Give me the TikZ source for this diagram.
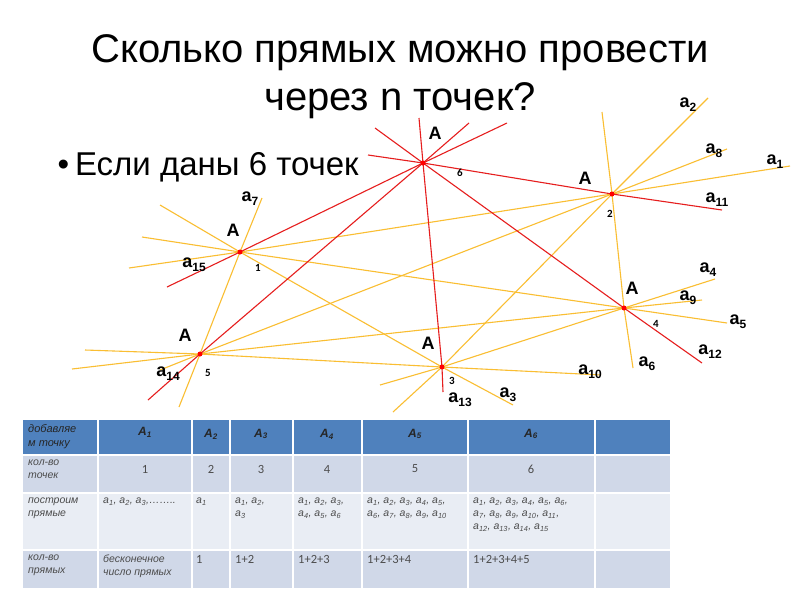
\documentclass[tikz,border=0pt]{standalone}
\usepackage{fontspec}
\setmainfont{Carlito}
\newfontfamily\arialf{Liberation Sans}
\definecolor{yel}{RGB}{250,190,50}
\definecolor{redl}{RGB}{230,30,30}
\definecolor{hdr}{RGB}{79,129,189}
\definecolor{rowa}{RGB}{208,216,232}
\definecolor{rowb}{RGB}{233,237,244}
\newcommand{\lsub}[1]{\raisebox{-4pt}{\fontsize{12}{12}\selectfont #1}}
\begin{document}
\begin{tikzpicture}[x=1pt,y=-1pt,
 yl/.style={draw=yel,line width=1.1pt},
 rl/.style={draw=redl,line width=1.1pt},
 pt/.style={circle,fill=red,inner sep=0pt,minimum size=5pt},
 bigA/.style={font=\arialf\bfseries\fontsize{18}{18}\selectfont},
 sub/.style={font=\bfseries\fontsize{11}{11}\selectfont},
 lab/.style={font=\arialf\bfseries\fontsize{18}{18}\selectfont,inner sep=0pt},
 cell/.style={font=\arialf\itshape\fontsize{10.5}{13}\selectfont,text=black!70,align=left,anchor=north west,inner sep=0pt}]
\useasboundingbox (0,0) rectangle (800,600);
\fill[white] (0,0) rectangle (800,600);
% points
\coordinate (A6) at (423,163); \coordinate (A2) at (612,194);
\coordinate (A1) at (240,252); \coordinate (A4) at (624,308);
\coordinate (A5) at (200,354); \coordinate (A3) at (442,367);
% yellow lines
\draw[yl] (262,198) -- (A1) -- (A5) -- (179,407);
\draw[yl] (602,112) -- (A2) -- (A4) -- (633,368);
\draw[yl] (708,98) -- (A2) -- (A3) -- (393,412);
\draw[yl] (727,149) -- (A2) -- (A5) -- (160,370);
\draw[yl] (790,166) -- (A2) -- (A1) -- (129,268);
\draw[yl] (715,279) -- (A4) -- (A3) -- (380,385);
\draw[yl] (702,300) -- (A4) -- (A5) -- (72,369);
\draw[yl] (727,323) -- (A4) -- (A1) -- (142,237);
\draw[yl] (601,375) -- (A3) -- (A5) -- (85,350);
\draw[yl] (513,405) -- (A3) -- (A1) -- (160,205);
% red lines
\draw[rl] (507,123) -- (A6) -- (A1) -- (167,287);
\draw[rl] (469,123) -- (A6) -- (A5) -- (148,400);
\draw[rl] (419,118) -- (A6) -- (A3) -- (443,392);
\draw[rl] (368,155) -- (A6) -- (A2) -- (722,210);
\draw[rl] (375,128) -- (A6) -- (A4) -- (702,363);
\foreach \p in {A1,A2,A3,A4,A5,A6} \node[pt] (d\p) at (\p) {};
% point labels
\node[bigA] (LA6) at (435,133) {A}; \node[sub] (s6) at (460,173) {6};
\node[bigA] (LA2) at (585,178) {A}; \node[sub] (s2) at (610,214) {2};
\node[bigA] (LA1) at (233,230) {A}; \node[sub] (s1) at (258,268) {1};
\node[bigA] (LA4) at (632,288) {A}; \node[sub] (s4) at (656,324) {4};
\node[bigA] (LA5) at (185,335) {A}; \node[sub] (s5) at (208,373) {5};
\node[bigA] (LA3) at (428,343) {A}; \node[sub] (s3) at (452,381) {3};
% line labels
\node[lab] (l2) at (688,105) {a\lsub{2}};
\node[lab] (l8) at (714,151) {a\lsub{8}};
\node[lab] (l1) at (775,162) {a\lsub{1}};
\node[lab] (l11) at (717,200) {a\lsub{11}};
\node[lab] (l7) at (250,199) {a\lsub{7}};
\node[lab] (l15) at (194,265) {a\lsub{15}};
\node[lab] (l4) at (708,270) {a\lsub{4}};
\node[lab] (l9) at (688,298) {a\lsub{9}};
\node[lab] (l5) at (738,322) {a\lsub{5}};
\node[lab] (l12) at (710,352) {a\lsub{12}};
\node[lab] (l6) at (647,364) {a\lsub{6}};
\node[lab] (l10) at (590,372) {a\lsub{10}};
\node[lab] (l13) at (460,400) {a\lsub{13}};
\node[lab] (l3) at (508,395) {a\lsub{3}};
\node[lab] (l14) at (168,374) {a\lsub{14}};
% title
\node[font=\arialf\fontsize{40}{48}\selectfont,align=center] (title) at (400,77) {Сколько прямых можно провести\\через n точек?};
\node[font=\arialf\fontsize{33}{34}\selectfont,anchor=west] (bul) at (54,167) {•\hspace{6pt}Если даны 6 точек};
% table
\fill[hdr] (23,420) rectangle (670,455);
\fill[rowa] (23,455) rectangle (670,493);
\fill[rowb] (23,493) rectangle (670,550);
\fill[rowa] (23,550) rectangle (670,588);
\foreach \x in {98,192,230,293,362,468,595} \draw[white,line width=1.5pt] (\x,420) -- (\x,588);
\foreach \y in {455,493,550} \draw[white,line width=1.5pt] (23,\y) -- (670,\y);
\begin{scope}[every node/.style={font=\arialf\bfseries\itshape\fontsize{12}{14}\selectfont,text=black!85}]
\node[anchor=north west,align=left,inner sep=0pt,font=\arialf\itshape\fontsize{11}{14}\selectfont] (h0) at (28,424) {добавляе\\м точку};
\node (h1) at (145,432) {A\textsubscript{1}};
\node (h2) at (211,434) {A\textsubscript{2}};
\node (h3) at (261,434) {A\textsubscript{3}};
\node (h4) at (327,434) {A\textsubscript{4}};
\node (h5) at (415,434) {A\textsubscript{5}};
\node (h6) at (531,434) {A\textsubscript{6}};
\end{scope}
\node[cell] (r10) at (28,460) {кол-во\\точек};
\begin{scope}[every node/.style={font=\fontsize{12.5}{14}\selectfont,text=black!70}]
\node (r11) at (145,469) {1}; \node (r12) at (211,469) {2}; \node (r13) at (261,469) {3};
\node (r14) at (327,469) {4}; \node (r15) at (415,469) {5}; \node (r16) at (531,469) {6};
\end{scope}
\node[cell] (r20) at (28,498) {построим\\прямые};
\node[cell] (r21) at (103,498) {a\textsubscript{1}, a\textsubscript{2}, a\textsubscript{3},……..};
\node[cell] (r22) at (196,498) {a\textsubscript{1}};
\node[cell] (r23) at (235,498) {a\textsubscript{1}, a\textsubscript{2},\\a\textsubscript{3}};
\node[cell] (r24) at (298,498) {a\textsubscript{1}, a\textsubscript{2}, a\textsubscript{3},\\a\textsubscript{4}, a\textsubscript{5}, a\textsubscript{6}};
\node[cell] (r25) at (367,498) {a\textsubscript{1}, a\textsubscript{2}, a\textsubscript{3}, a\textsubscript{4}, a\textsubscript{5},\\a\textsubscript{6}, a\textsubscript{7}, a\textsubscript{8}, a\textsubscript{9}, a\textsubscript{10}};
\node[cell] (r26) at (473,498) {a\textsubscript{1}, a\textsubscript{2}, a\textsubscript{3}, a\textsubscript{4}, a\textsubscript{5}, a\textsubscript{6},\\a\textsubscript{7}, a\textsubscript{8}, a\textsubscript{9}, a\textsubscript{10}, a\textsubscript{11},\\a\textsubscript{12}, a\textsubscript{13}, a\textsubscript{14}, a\textsubscript{15}};
\node[cell] (r30) at (28,555) {кол-во\\прямых};
\node[cell] (r31) at (103,555) {бесконечное\\число прямых};
\begin{scope}[every node/.style={font=\fontsize{12.5}{14}\selectfont,text=black!70,anchor=north west,inner sep=0pt}]
\node (r32) at (196,555) {1}; \node (r33) at (235,555) {1+2}; \node (r34) at (298,555) {1+2+3};
\node (r35) at (367,555) {1+2+3+4}; \node (r36) at (473,555) {1+2+3+4+5};
\end{scope}
\end{tikzpicture}
\end{document}
